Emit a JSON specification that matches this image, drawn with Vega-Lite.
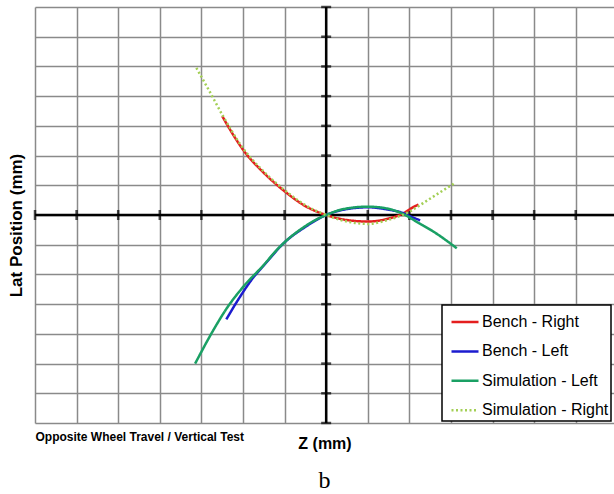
{
  "$schema": "https://vega.github.io/schema/vega-lite/v6.json",
  "width": 579,
  "height": 416,
  "autosize": {"type": "none"},
  "padding": {"left": 35, "top": 7, "right": 0, "bottom": 71},
  "background": "white",
  "config": {
    "view": {"stroke": null},
    "axis": {"gridColor": "#8a8a8a", "gridWidth": 1.5, "gridOpacity": 1},
    "legend": {"strokeColor": "black", "fillColor": "white", "strokeWidth": 1.5}
  },
  "title": {
    "text": "b",
    "orient": "bottom",
    "anchor": "middle",
    "font": "Liberation Serif",
    "fontSize": 24,
    "fontWeight": "normal",
    "color": "black",
    "baseline": "alphabetic",
    "offset": 37
  },
  "datasets": {
    "bench_right": [
      {"series": "Bench - Right", "z": -2.5, "lat": 3.33},
      {"series": "Bench - Right", "z": -2.2, "lat": 2.62},
      {"series": "Bench - Right", "z": -2.0, "lat": 2.2},
      {"series": "Bench - Right", "z": -1.5, "lat": 1.42},
      {"series": "Bench - Right", "z": -1.0, "lat": 0.8},
      {"series": "Bench - Right", "z": -0.5, "lat": 0.3},
      {"series": "Bench - Right", "z": 0, "lat": 0},
      {"series": "Bench - Right", "z": 0.5, "lat": -0.17},
      {"series": "Bench - Right", "z": 1.0, "lat": -0.22},
      {"series": "Bench - Right", "z": 1.5, "lat": -0.12},
      {"series": "Bench - Right", "z": 1.86, "lat": 0.06},
      {"series": "Bench - Right", "z": 2.1, "lat": 0.27},
      {"series": "Bench - Right", "z": 2.22, "lat": 0.35}
    ],
    "bench_left": [
      {"series": "Bench - Left", "z": -2.4, "lat": -3.51},
      {"series": "Bench - Left", "z": -2.07, "lat": -2.75},
      {"series": "Bench - Left", "z": -1.75, "lat": -2.1},
      {"series": "Bench - Left", "z": -1.5, "lat": -1.7},
      {"series": "Bench - Left", "z": -1.0, "lat": -0.92},
      {"series": "Bench - Left", "z": -0.5, "lat": -0.4},
      {"series": "Bench - Left", "z": 0, "lat": 0},
      {"series": "Bench - Left", "z": 0.5, "lat": 0.2},
      {"series": "Bench - Left", "z": 1.0, "lat": 0.26},
      {"series": "Bench - Left", "z": 1.5, "lat": 0.18},
      {"series": "Bench - Left", "z": 1.86, "lat": 0.06},
      {"series": "Bench - Left", "z": 2.05, "lat": -0.06},
      {"series": "Bench - Left", "z": 2.26, "lat": -0.18}
    ],
    "sim_left": [
      {"series": "Simulation - Left", "z": -3.15, "lat": -5.0},
      {"series": "Simulation - Left", "z": -2.71, "lat": -3.87},
      {"series": "Simulation - Left", "z": -2.39, "lat": -3.14},
      {"series": "Simulation - Left", "z": -1.99, "lat": -2.41},
      {"series": "Simulation - Left", "z": -1.5, "lat": -1.68},
      {"series": "Simulation - Left", "z": -1.19, "lat": -1.18},
      {"series": "Simulation - Left", "z": -0.94, "lat": -0.84},
      {"series": "Simulation - Left", "z": -0.63, "lat": -0.5},
      {"series": "Simulation - Left", "z": -0.3, "lat": -0.2},
      {"series": "Simulation - Left", "z": 0, "lat": 0},
      {"series": "Simulation - Left", "z": 0.42, "lat": 0.2},
      {"series": "Simulation - Left", "z": 1.0, "lat": 0.28},
      {"series": "Simulation - Left", "z": 1.38, "lat": 0.24},
      {"series": "Simulation - Left", "z": 1.9, "lat": 0},
      {"series": "Simulation - Left", "z": 2.2, "lat": -0.25},
      {"series": "Simulation - Left", "z": 2.58, "lat": -0.56},
      {"series": "Simulation - Left", "z": 3.14, "lat": -1.12}
    ],
    "sim_right": [
      {"series": "Simulation - Right", "z": -3.12, "lat": 4.95},
      {"series": "Simulation - Right", "z": -2.8, "lat": 4.15},
      {"series": "Simulation - Right", "z": -2.5, "lat": 3.38},
      {"series": "Simulation - Right", "z": -2.0, "lat": 2.25},
      {"series": "Simulation - Right", "z": -1.5, "lat": 1.46},
      {"series": "Simulation - Right", "z": -1.0, "lat": 0.84},
      {"series": "Simulation - Right", "z": -0.5, "lat": 0.33},
      {"series": "Simulation - Right", "z": 0, "lat": 0},
      {"series": "Simulation - Right", "z": 0.5, "lat": -0.22},
      {"series": "Simulation - Right", "z": 1.0, "lat": -0.3},
      {"series": "Simulation - Right", "z": 1.5, "lat": -0.16},
      {"series": "Simulation - Right", "z": 1.8, "lat": -0.02},
      {"series": "Simulation - Right", "z": 2.05, "lat": 0.15},
      {"series": "Simulation - Right", "z": 2.33, "lat": 0.4},
      {"series": "Simulation - Right", "z": 2.7, "lat": 0.73},
      {"series": "Simulation - Right", "z": 3.1, "lat": 1.08}
    ],
    "xticks": [
      {"z": -7}, {"z": -6}, {"z": -5}, {"z": -4}, {"z": -3}, {"z": -2}, {"z": -1},
      {"z": 1}, {"z": 2}, {"z": 3}, {"z": 4}, {"z": 5}, {"z": 6}
    ],
    "yticks": [
      {"lat": -7}, {"lat": -6}, {"lat": -5}, {"lat": -4}, {"lat": -3}, {"lat": -2}, {"lat": -1},
      {"lat": 1}, {"lat": 2}, {"lat": 3}, {"lat": 4}, {"lat": 5}, {"lat": 6}, {"lat": 7}
    ],
    "one": [{}]
  },
  "layer": [
    {
      "data": {"name": "one"},
      "mark": {"type": "rule", "color": "black", "strokeWidth": 2.5},
      "encoding": {
        "y": {
          "datum": 0,
          "type": "quantitative",
          "scale": {"domain": [-7, 7], "nice": false, "zero": false},
          "axis": {
            "values": [-7, -6, -5, -4, -3, -2, -1, 0, 1, 2, 3, 4, 5, 6, 7],
            "tickCount": 15,
            "grid": true,
            "ticks": false,
            "domain": false,
            "labels": false,
            "title": "Lat Position (mm)",
            "titleFont": "Liberation Sans",
            "titleFontSize": 17,
            "titleFontWeight": "bold",
            "titleColor": "black",
            "titleX": -10,
            "titleY": 218,
            "titleBaseline": "bottom",
            "titleAlign": "center",
            "titleAngle": 270
          }
        }
      }
    },
    {
      "data": {"name": "one"},
      "mark": {"type": "rule", "color": "black", "strokeWidth": 2.5},
      "encoding": {
        "x": {
          "datum": 0,
          "type": "quantitative",
          "scale": {"domain": [-7, 6.92], "nice": false, "zero": false},
          "axis": {
            "values": [-7, -6, -5, -4, -3, -2, -1, 0, 1, 2, 3, 4, 5, 6],
            "grid": true,
            "ticks": false,
            "domain": false,
            "labelExpr": "datum.value == -7 ? 'Opposite Wheel Travel / Vertical Test' : ''",
            "labelAlign": "left",
            "labelBaseline": "top",
            "labelFont": "Liberation Sans",
            "labelFontSize": 12,
            "labelFontWeight": "bold",
            "labelColor": "black",
            "labelPadding": 8,
            "labelLimit": 400,
            "labelOverlap": false,
            "labelBound": false,
            "labelFlush": false,
            "title": "Z (mm)",
            "titleFont": "Liberation Sans",
            "titleFontSize": 16,
            "titleFontWeight": "bold",
            "titleColor": "black",
            "titleY": 25,
            "titleBaseline": "alphabetic"
          }
        }
      }
    },
    {
      "data": {"name": "xticks"},
      "mark": {"type": "tick", "orient": "vertical", "color": "black", "thickness": 2.5, "size": 10},
      "encoding": {
        "x": {"field": "z", "type": "quantitative"},
        "y": {"datum": 0, "type": "quantitative"}
      }
    },
    {
      "data": {"name": "yticks"},
      "mark": {"type": "tick", "orient": "horizontal", "color": "black", "thickness": 2.5, "size": 10},
      "encoding": {
        "y": {
          "field": "lat",
          "type": "quantitative",
          "axis": {
            "values": [-7, -6, -5, -4, -3, -2, -1, 0, 1, 2, 3, 4, 5, 6, 7],
            "tickCount": 15,
            "grid": true,
            "ticks": false,
            "domain": false,
            "labels": false,
            "title": "Lat Position (mm)",
            "titleFont": "Liberation Sans",
            "titleFontSize": 17,
            "titleFontWeight": "bold",
            "titleColor": "black",
            "titleX": -10,
            "titleY": 218,
            "titleBaseline": "bottom",
            "titleAlign": "center",
            "titleAngle": 270
          }
        },
        "x": {"datum": 0, "type": "quantitative"}
      }
    },
    {
      "data": {"name": "bench_right"},
      "mark": {"type": "line", "interpolate": "monotone", "strokeCap": "butt"},
      "encoding": {
        "x": {"field": "z", "type": "quantitative"},
        "y": {"field": "lat", "type": "quantitative"},
        "color": {
          "field": "series", "type": "nominal",
          "scale": {
            "domain": ["Bench - Right", "Bench - Left", "Simulation - Left", "Simulation - Right"],
            "range": ["#e41e1e", "#1c1ccf", "#1aa064", "#a3cf55"]
          },
          "legend": {
            "title": null,
            "orient": "none",
            "legendX": 407,
            "legendY": 298,
            "padding": 2,
            "symbolType": "stroke",
            "symbolSize": 729,
            "symbolOffset": 6,
            "rowPadding": 6.4,
            "labelOffset": 2,
            "labelFont": "Liberation Sans",
            "labelFontSize": 16,
            "labelColor": "black",
            "labelLimit": 300
          }
        },
        "strokeDash": {
          "field": "series", "type": "nominal",
          "scale": {
            "domain": ["Bench - Right", "Bench - Left", "Simulation - Left", "Simulation - Right"],
            "range": [[1, 0], [1, 0], [1, 0], [2, 2.5]]
          }
        },
        "strokeWidth": {
          "field": "series", "type": "nominal",
          "scale": {
            "domain": ["Bench - Right", "Bench - Left", "Simulation - Left", "Simulation - Right"],
            "range": [2.5, 2.5, 3, 2]
          }
        }
      }
    },
    {
      "data": {"name": "bench_left"},
      "mark": {"type": "line", "interpolate": "monotone", "strokeCap": "butt"},
      "encoding": {
        "x": {"field": "z", "type": "quantitative"},
        "y": {"field": "lat", "type": "quantitative"},
        "color": {"field": "series", "type": "nominal"},
        "strokeDash": {"field": "series", "type": "nominal"},
        "strokeWidth": {"field": "series", "type": "nominal"}
      }
    },
    {
      "data": {"name": "sim_left"},
      "mark": {"type": "line", "interpolate": "monotone", "strokeCap": "butt"},
      "encoding": {
        "x": {"field": "z", "type": "quantitative"},
        "y": {"field": "lat", "type": "quantitative"},
        "color": {"field": "series", "type": "nominal"},
        "strokeDash": {"field": "series", "type": "nominal"},
        "strokeWidth": {"field": "series", "type": "nominal"}
      }
    },
    {
      "data": {"name": "sim_right"},
      "mark": {"type": "line", "interpolate": "monotone", "strokeCap": "butt"},
      "encoding": {
        "x": {"field": "z", "type": "quantitative"},
        "y": {"field": "lat", "type": "quantitative"},
        "color": {"field": "series", "type": "nominal"},
        "strokeDash": {"field": "series", "type": "nominal"},
        "strokeWidth": {"field": "series", "type": "nominal"}
      }
    }
  ]
}
